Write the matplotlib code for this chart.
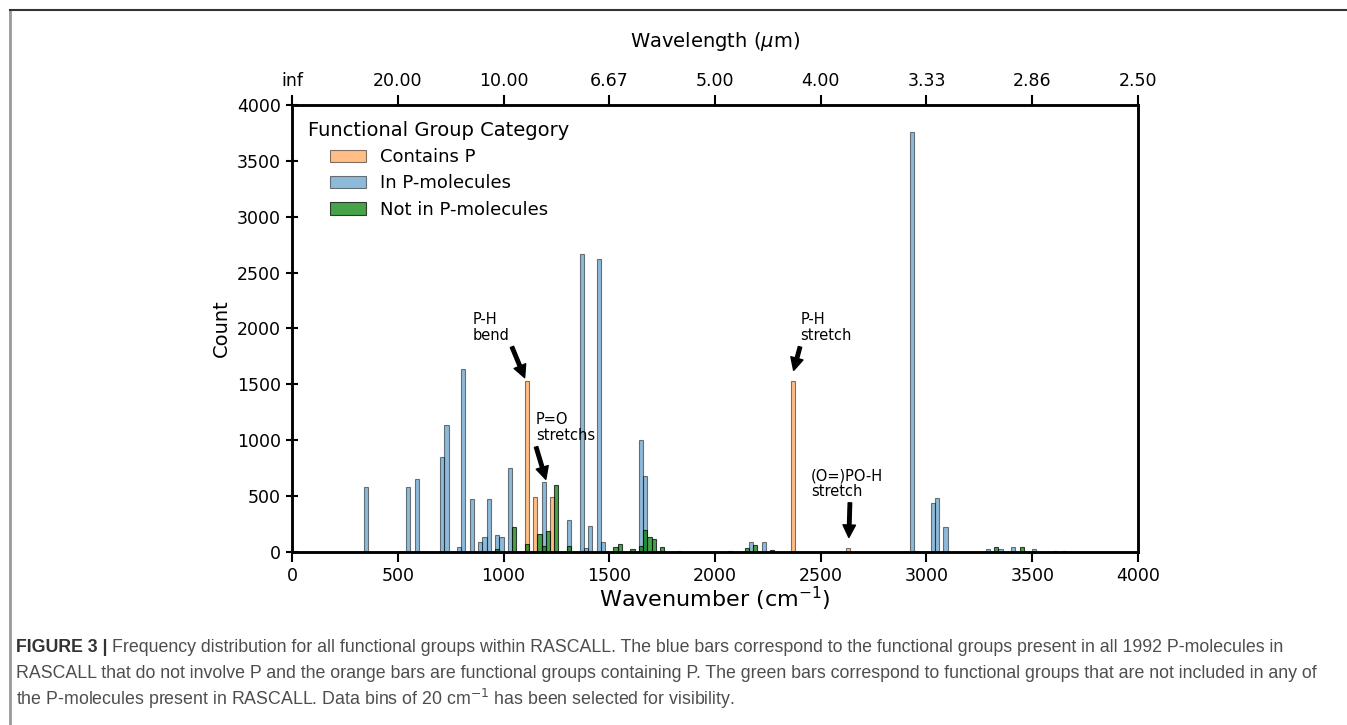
import matplotlib
matplotlib.use("Agg")
import matplotlib.pyplot as plt
from matplotlib.lines import Line2D

# histogram bins (left edge, cm^-1) and counts, bin width 20
BIN_WIDTH = 20

contains_p_bins = [1100, 1140, 1220, 2360, 2620]
contains_p_counts = [1530, 495, 495, 1530, 40]

in_p_bins = [340, 540, 580, 700, 720, 780, 800, 840, 880, 900, 920, 960, 980,
             1020, 1180, 1300, 1360, 1380, 1400, 1440, 1460, 1640, 1660, 1820,
             2160, 2220, 2920, 2940, 3020, 3040, 3080, 3280, 3340, 3400, 3500,
             3600, 3640]
in_p_counts = [584, 584, 650, 847, 1136, 48, 1635, 474, 90, 131, 474, 149, 131,
               752, 629, 286, 2664, 33, 234, 2619, 90, 1000, 683, 12,
               90, 90, 3755, 10, 435, 486, 227, 24, 30, 48, 24,
               8, 8]

not_in_p_bins = [960, 1040, 1100, 1160, 1180, 1200, 1240, 1300, 1520, 1540,
                 1600, 1640, 1660, 1680, 1700, 1740, 2060, 2140, 2180, 2260,
                 3320, 3440]
not_in_p_counts = [25, 222, 68, 165, 54, 188, 604, 50, 45, 72,
                   25, 54, 197, 133, 116, 48, 10, 33, 63, 18,
                   45, 42]

wavenumber_ticks = [0, 500, 1000, 1500, 2000, 2500, 3000, 3500, 4000]
count_ticks = [0, 500, 1000, 1500, 2000, 2500, 3000, 3500, 4000]

# (text, text position, arrow tail, arrow head) in data units
annotations = [
    ("P-H\nbend", (855, 2150), (1040, 1835), (1100, 1560)),
    ("P=O\nstretchs", (1154, 1255), (1154, 940), (1200, 650)),
    ("P-H\nstretch", (2405, 2150), (2402, 1835), (2372, 1625)),
    ("(O=)PO-H\nstretch", (2454, 750), (2638, 440), (2633, 130)),
]

fig = plt.figure(figsize=(13.47, 7.25), dpi=100)
ax = fig.add_axes([0.2168, 0.2386, 0.628, 0.6166])

ax.bar(contains_p_bins, contains_p_counts, width=BIN_WIDTH, align="edge",
       color="tab:orange", edgecolor="black", linewidth=0.8, alpha=0.5,
       label="Contains P")
ax.bar(in_p_bins, in_p_counts, width=BIN_WIDTH, align="edge",
       color="tab:blue", edgecolor="black", linewidth=0.8, alpha=0.5,
       label="In P-molecules")
ax.bar(not_in_p_bins, not_in_p_counts, width=BIN_WIDTH, align="edge",
       color="green", edgecolor="black", linewidth=0.8, alpha=0.72,
       label="Not in P-molecules")

ax.set_xlim(0, 4000)
ax.set_ylim(0, 4000)
ax.set_xticks(wavenumber_ticks)
ax.set_yticks(count_ticks)
ax.tick_params(axis="x", direction="out", length=7, width=1.5, labelsize=12.5)
ax.tick_params(axis="y", direction="inout", length=9, width=1.5, labelsize=12.5)
for s in ax.spines.values():
    s.set_linewidth(1.8)
ax.set_xlabel("Wavenumber (cm$^{-1}$)", fontsize=16, labelpad=0)
ax.set_ylabel("Count", fontsize=14)

leg = ax.legend(loc="upper left", frameon=False, fontsize=13,
                title="Functional Group Category", title_fontsize=14,
                handlelength=2.0, labelspacing=0.45)

for txt, tpos, tail, head in annotations:
    ax.text(tpos[0], tpos[1], txt, fontsize=10.5, ha="left", va="top",
            linespacing=1.1)
    ax.annotate("", xy=head, xytext=tail,
                arrowprops=dict(facecolor="black", edgecolor="black",
                                width=2.5, headwidth=9, headlength=9))

# top axis: wavelength in micrometres
top = ax.twiny()
top.set_xlim(ax.get_xlim())
top.set_xticks(wavenumber_ticks)
top.set_xticklabels(["inf" if v == 0 else f"{1e4 / v:.2f}" for v in wavenumber_ticks])
top.tick_params(axis="x", direction="out", length=7, width=1.5, labelsize=12.5)
top.set_xlabel("Wavelength ($\\mu$m)", fontsize=14, labelpad=18)
for s in top.spines.values():
    s.set_linewidth(1.8)

# page frame
fig.add_artist(Line2D([10 / 1347, 10 / 1347], [0, 1 - 10 / 725],
                      transform=fig.transFigure, color="#999999", linewidth=2))
fig.add_artist(Line2D([10 / 1347, 1], [1 - 10 / 725, 1 - 10 / 725],
                      transform=fig.transFigure, color="#333333", linewidth=1.5))

# caption
cap_font = dict(family=["Liberation Sans", "DejaVu Sans"], fontsize=12.8)
x0 = 16 / 1347
ys = [1 - 647 / 725, 1 - 673 / 725, 1 - 699 / 725]
bold = fig.text(x0, ys[0], "FIGURE 3 |", fontweight="bold", color="#333333",
                va="center", **cap_font)
fig.canvas.draw()
bb = bold.get_window_extent(renderer=fig.canvas.get_renderer())
fig.text((bb.x1 + 4) / fig.bbox.width, ys[0],
         "Frequency distribution for all functional groups within RASCALL. The blue bars "
         "correspond to the functional groups present in all 1992 P-molecules in",
         color="#4d4d4d", va="center", **cap_font)
fig.text(x0, ys[1],
         "RASCALL that do not involve P and the orange bars are functional groups containing P. "
         "The green bars correspond to functional groups that are not included in any of",
         color="#4d4d4d", va="center", **cap_font)
fig.text(x0, ys[2],
         "the P-molecules present in RASCALL. Data bins of 20 cm$^{-1}$ has been selected for visibility.",
         color="#4d4d4d", va="center", **cap_font)

fig.savefig("out.png", dpi=100)
